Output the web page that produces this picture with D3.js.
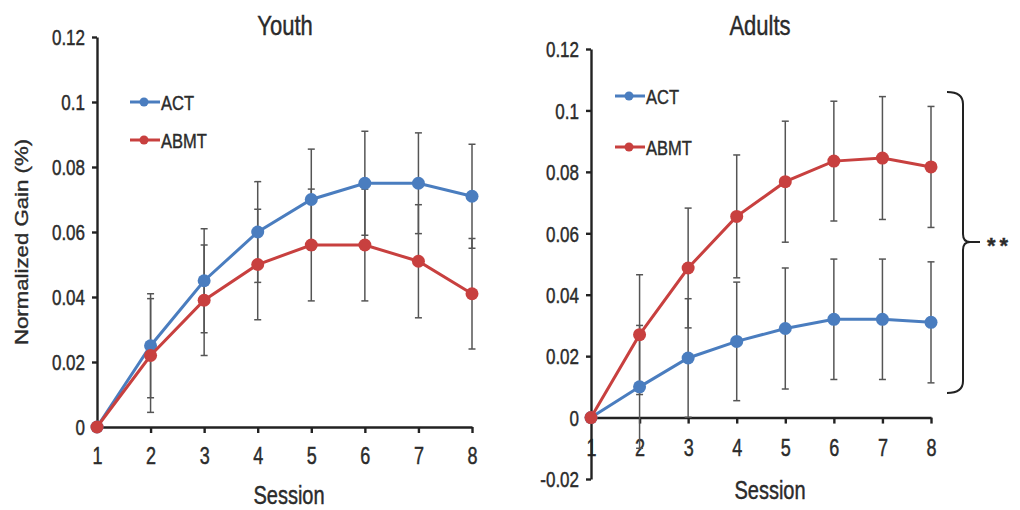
<!DOCTYPE html>
<html>
<head>
<meta charset="utf-8">
<script src="https://cdn.jsdelivr.net/npm/d3@7"></script>
<style>
  body { margin: 0; background: #fff; }
  text { font-family: 'Liberation Sans', Arial, sans-serif; fill: #2b2b2b; stroke: #2b2b2b; stroke-width: 0.35; }
</style>
</head>
<body>
<svg width="1020" height="510"></svg>
<script>
// data
const sessions = [1, 2, 3, 4, 5, 6, 7, 8];
const seriesNames = ['ACT', 'ABMT'];

const youthAct = [0, 0.025, 0.045, 0.060, 0.070, 0.075, 0.075, 0.071];
const youthActErr = [0, 0.016, 0.016, 0.0155, 0.0155, 0.016, 0.0155, 0.016];
const youthAbmt = [0, 0.022, 0.039, 0.050, 0.056, 0.056, 0.051, 0.041];
const youthAbmtErr = [0, 0.0175, 0.017, 0.017, 0.0172, 0.0172, 0.0174, 0.017];

const adultAct = [0, 0.010, 0.0194, 0.0248, 0.029, 0.032, 0.032, 0.031];
const adultActErr = [0, 0.020, 0.0193, 0.0193, 0.0197, 0.0196, 0.0196, 0.0197];
const adultAbmt = [0, 0.027, 0.0487, 0.0655, 0.0768, 0.0835, 0.0845, 0.0816];
const adultAbmtErr = [0, 0.0195, 0.0195, 0.020, 0.0197, 0.0195, 0.020, 0.0197];

const youthTicks = [0, 0.02, 0.04, 0.06, 0.08, 0.1, 0.12];
const adultTicks = [-0.02, 0, 0.02, 0.04, 0.06, 0.08, 0.1, 0.12];

const colors = { ACT: '#4a7dbf', ABMT: '#c8403f' };
const SY = 1.28; // the figure is stretched vertically

const svg = d3.select('svg');

function txt(g, x, y, s, size, anchor) {
  return g.append('text')
    .attr('transform', `translate(${x},${y}) scale(1,${SY})`)
    .attr('font-size', size)
    .attr('text-anchor', anchor)
    .text(s);
}

function drawPanel(p) {
  const g = svg.append('g');
  const x = d3.scaleLinear().domain([1, 8]).range(p.xr);
  const y = d3.scaleLinear().domain(p.yDomain).range(p.yr);
  const fmt = (d) => String(+d.toFixed(2));

  // x axis at zero
  const xa = g.append('g')
    .attr('transform', `translate(0,${y(0)})`)
    .call(d3.axisBottom(x).tickValues(sessions).tickSize(6).tickSizeOuter(0).tickFormat(d3.format('d')));
  xa.selectAll('text')
    .attr('y', null).attr('dy', null)
    .attr('font-size', 18).attr('font-family', null)
    .attr('transform', `translate(0,${p.xLabOff}) scale(1,${SY})`);

  // y axis
  const ya = g.append('g')
    .attr('transform', `translate(${x(1)},0)`)
    .call(d3.axisLeft(y).tickValues(p.ticks).tickSize(5).tickSizeOuter(0).tickFormat(fmt));
  ya.selectAll('text')
    .attr('x', null).attr('dy', null)
    .attr('font-size', 17).attr('font-family', null)
    .attr('transform', `translate(${-p.yPad},${0.358 * 17 * SY}) scale(1,${SY})`);

  [xa, ya].forEach((a) => {
    a.attr('color', '#222');
    a.selectAll('path, line').attr('stroke-width', 2.4);
    a.selectAll('text').attr('fill', null);
  });

  const series = [
    { name: 'ACT', v: p.act, e: p.actErr },
    { name: 'ABMT', v: p.abmt, e: p.abmtErr },
  ];

  // error bars
  series.forEach((s) => {
    sessions.forEach((d, i) => {
      if (!s.e[i]) return;
      const lo = y(s.v[i] - s.e[i]), hi = y(s.v[i] + s.e[i]), cx = x(d);
      const eg = g.append('g').attr('stroke', '#555').attr('stroke-width', 1.5);
      eg.append('line').attr('x1', cx).attr('x2', cx).attr('y1', lo).attr('y2', hi);
      eg.append('line').attr('x1', cx - 3.5).attr('x2', cx + 3.5).attr('y1', lo).attr('y2', lo);
      eg.append('line').attr('x1', cx - 3.5).attr('x2', cx + 3.5).attr('y1', hi).attr('y2', hi);
    });
  });

  // lines and markers
  const line = d3.line().x((d, i) => x(sessions[i])).y((d) => y(d));
  series.forEach((s) => {
    g.append('path')
      .attr('d', line(s.v))
      .attr('fill', 'none')
      .attr('stroke', colors[s.name])
      .attr('stroke-width', 3);
    g.selectAll(null)
      .data(s.v)
      .enter()
      .append('circle')
      .attr('cx', (d, i) => x(sessions[i]))
      .attr('cy', (d) => y(d))
      .attr('r', 6.5)
      .attr('fill', colors[s.name]);
  });

  // legend
  seriesNames.forEach((name, i) => {
    const ly = p.legY[i];
    g.append('line')
      .attr('x1', p.legX).attr('x2', p.legX + 30)
      .attr('y1', ly).attr('y2', ly)
      .attr('stroke', colors[name]).attr('stroke-width', 3);
    g.append('circle').attr('cx', p.legX + 14).attr('cy', ly).attr('r', 4.5).attr('fill', colors[name]);
    txt(g, p.legX + 31, ly + 0.358 * 16.5 * SY, name, 16.5, 'start');
  });

  txt(g, p.titleX, 35, p.title, 22, 'middle');
  txt(g, p.sessX, p.sessY, 'Session', 20, 'middle');
  return { x, y };
}

drawPanel({
  title: 'Youth', xr: [97, 472], yDomain: [0, 0.12], yr: [427, 37], ticks: youthTicks,
  act: youthAct, actErr: youthActErr, abmt: youthAbmt, abmtErr: youthAbmtErr,
  xLabOff: 37, yPad: 12, legX: 130, legY: [102, 140],
  titleX: 285, sessX: 289, sessY: 504,
});

drawPanel({
  title: 'Adults', xr: [591, 931], yDomain: [-0.02, 0.12], yr: [479, 49], ticks: adultTicks,
  act: adultAct, actErr: adultActErr, abmt: adultAbmt, abmtErr: adultAbmtErr,
  xLabOff: 38, yPad: 12, legX: 615, legY: [96, 147],
  titleX: 760, sessX: 770, sessY: 499,
});

// y label
svg.append('text')
  .attr('transform', 'translate(28,242) rotate(-90) scale(1.27,1)')
  .attr('font-size', 17.5)
  .attr('text-anchor', 'middle')
  .text('Normalized Gain (%)');

// significance bracket
svg.append('path')
  .attr('d', 'M947,92 Q963,92 963,104 V234 Q963,242 970,242 H980 M970,242 Q963,242 963,250 V381 Q963,393 947,393')
  .attr('fill', 'none')
  .attr('stroke', '#222')
  .attr('stroke-width', 2);
svg.append('text')
  .attr('x', 987).attr('y', 253)
  .attr('font-size', 22)
  .attr('font-weight', 'bold')
  .attr('letter-spacing', 4)
  .text('**');
</script>
</body>
</html>
